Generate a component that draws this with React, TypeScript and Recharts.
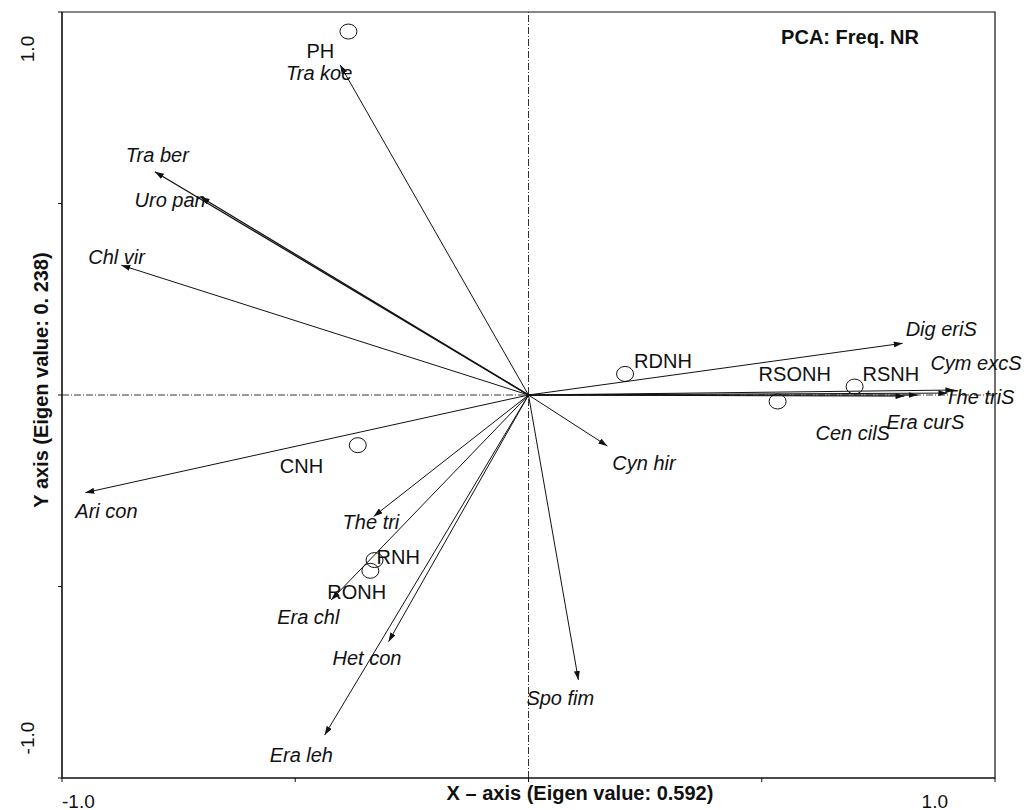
import React from 'react';
import { ScatterChart, Scatter, XAxis, YAxis, ReferenceLine, ReferenceArea } from 'recharts';

// species vectors (arrow tips)
const species = ['Tra koe', 'Tra ber', 'Uro pan', 'Chl vir', 'Ari con', 'The tri', 'Era chl', 'Het con', 'Era leh', 'Spo fim', 'Cyn hir', 'Dig eriS', 'Cym excS', 'The triS', 'Era curS', 'Cen cilS'];
const speciesX = [-0.404, -0.801, -0.703, -0.873, -0.95, -0.332, -0.423, -0.3, -0.437, 0.107, 0.169, 0.802, 0.913, 0.898, 0.834, 0.806];
const speciesY = [0.862, 0.583, 0.517, 0.339, -0.255, -0.317, -0.535, -0.644, -0.888, -0.744, -0.133, 0.135, 0.013, 0.005, 0.0, -0.003];

// sample sites (open circles)
const sites = ['PH', 'RDNH', 'RSONH', 'RSNH', 'CNH', 'RNH', 'RONH'];
const siteX = [-0.386, 0.207, 0.534, 0.699, -0.366, -0.33, -0.339];
const siteY = [0.949, 0.055, -0.017, 0.022, -0.131, -0.431, -0.459];

const axisTicks = [-1, -0.5, 0, 0.5, 1];

// label placement relative to the point, in px
const speciesNudge: Record<string, [number, number]> = {
  'Tra koe': [-54, 8], 'Tra ber': [-29, -17], 'Uro pan': [-66, 3], 'Chl vir': [-33, -8],
  'Ari con': [-10, 18], 'The tri': [-31, 6], 'Era chl': [-54, 17], 'Het con': [-56, 16],
  'Era leh': [-55, 20], 'Spo fim': [-52, 18], 'Cyn hir': [5, 17], 'Dig eriS': [3, -14],
  'Cym excS': [-24, -27], 'The triS': [-3, 4], 'Era curS': [-31, 27], 'Cen cilS': [-89, 37],
};
const siteNudge: Record<string, [number, number]> = {
  PH: [-42, 19], RDNH: [9, -13], RSONH: [-19, -28], RSNH: [8, -13],
  CNH: [-78, 21], RNH: [2, -3], RONH: [-43, 21],
};

const FONT = '"Liberation Sans", Arial, sans-serif';

const SpeciesLabel = (p: any) => {
  const name = p.payload && p.payload.name;
  if (!name) return <g />;
  const [dx, dy] = speciesNudge[name] || [0, 0];
  return (
    <text x={p.cx + dx} y={p.cy + dy} fontFamily={FONT} fontSize={20} fontStyle="italic" fill="#111" dominantBaseline="central">
      {name}
    </text>
  );
};

const SiteMark = (p: any) => {
  const name = p.payload.name;
  const [dx, dy] = siteNudge[name] || [0, 0];
  return (
    <g>
      <ellipse cx={p.cx} cy={p.cy} rx={8.5} ry={7.5} fill="none" stroke="#111" strokeWidth={1} />
      <text x={p.cx + dx} y={p.cy + dy} fontFamily={FONT} fontSize={20} fill="#111" dominantBaseline="central">
        {name}
      </text>
    </g>
  );
};

const XTick = (p: any) => {
  const v = p.payload.value;
  if (v !== -1 && v !== 1) return <g />;
  return (
    <text x={v === -1 ? p.x : p.x - 47} y={p.y + 17} textAnchor={v === -1 ? 'start' : 'end'} fontFamily={FONT} fontSize={19} fill="#111" dominantBaseline="central">
      {v.toFixed(1)}
    </text>
  );
};

const YTick = (p: any) => {
  const v = p.payload.value;
  if (v !== -1 && v !== 1) return <g />;
  const cx = p.x - 29;
  const cy = v === 1 ? p.y + 37 : p.y - 40;
  return (
    <text x={cx} y={cy} transform={`rotate(-90, ${cx}, ${cy})`} textAnchor="middle" fontFamily={FONT} fontSize={19} fill="#111" dominantBaseline="central">
      {v.toFixed(1)}
    </text>
  );
};

export default function App() {
  const siteData = sites.map((name, i) => ({ x: siteX[i], y: siteY[i], name }));
  return (
    <div style={{ position: 'fixed', left: 0, top: 0, width: 1028, height: 810, background: '#fff' }}>
      <svg width={0} height={0} style={{ position: 'absolute' }}>
        <defs>
          <marker id="arrowHead" viewBox="0 0 10 10" refX={10} refY={5} markerUnits="userSpaceOnUse" markerWidth={9} markerHeight={6} orient="auto" preserveAspectRatio="none">
            <path d="M0,0 L10,5 L0,10 z" fill="#111" />
          </marker>
        </defs>
      </svg>
      <ScatterChart width={1028} height={810} margin={{ top: 12, right: 33, bottom: 2, left: 22 }}>
        <XAxis type="number" dataKey="x" domain={[-1, 1]} ticks={axisTicks} height={30}
          axisLine={{ stroke: '#111' }} tickLine={{ stroke: '#111' }} tickSize={4} tick={<XTick />} interval={0} />
        <YAxis type="number" dataKey="y" domain={[-1, 1]} ticks={axisTicks} width={40}
          axisLine={{ stroke: '#111' }} tickLine={{ stroke: '#111' }} tickSize={4} tick={<YTick />} interval={0} />
        <ReferenceArea x1={-1} x2={1} y1={-1} y2={1} fill="none" stroke="#111" strokeWidth={1.2} fillOpacity={0} />
        <ReferenceLine x={0} stroke="#333" strokeDasharray="7 2 1 2" strokeWidth={1} />
        <ReferenceLine y={0} stroke="#333" strokeDasharray="7 2 1 2" strokeWidth={1} />
        {species.map((name, i) => (
          <Scatter
            key={name}
            data={[{ x: 0, y: 0 }, { x: speciesX[i], y: speciesY[i], name }]}
            line={{ stroke: '#111', strokeWidth: i === 1 || i === 2 ? 1.3 : 1, markerEnd: 'url(#arrowHead)' }}
            lineJointType="linear"
            shape={<SpeciesLabel />}
            isAnimationActive={false}
          />
        ))}
        <Scatter data={siteData} shape={<SiteMark />} isAnimationActive={false} />
      </ScatterChart>
      <svg width={1028} height={810} style={{ position: 'absolute', left: 0, top: 0, pointerEvents: 'none' }}>
        <text x={850} y={37} textAnchor="middle" dominantBaseline="central" fontFamily={FONT} fontSize={20} fontWeight="bold" fill="#111">
          PCA: Freq. NR
        </text>
        <text x={580} y={793} textAnchor="middle" dominantBaseline="central" fontFamily={FONT} fontSize={20} fontWeight="bold" fill="#111">
          X – axis (Eigen value: 0.592)
        </text>
        <text x={41} y={380} transform="rotate(-90, 41, 380)" textAnchor="middle" dominantBaseline="central" fontFamily={FONT} fontSize={20} fontWeight="bold" fill="#111">
          Y axis (Eigen value: 0. 238)
        </text>
      </svg>
    </div>
  );
}
